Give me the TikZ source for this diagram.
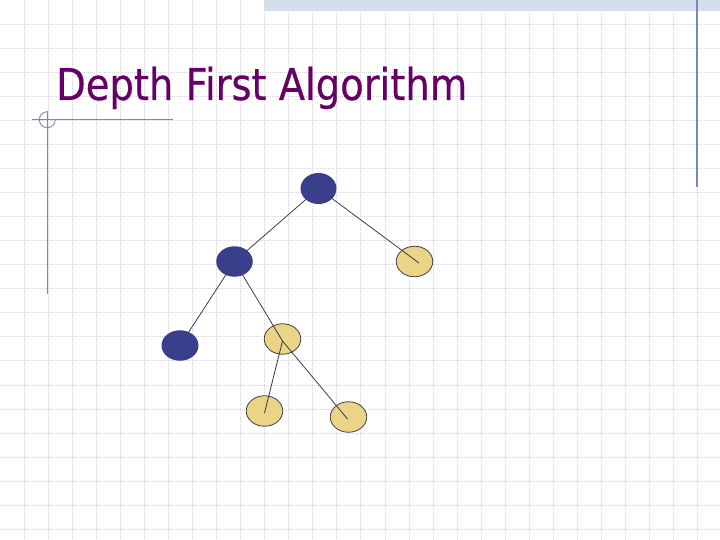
\documentclass[tikz,border=0pt]{standalone}
\usepackage{fontspec}
\setmainfont{DejaVu Sans}
\newfontfamily\titlefont[FakeBold=0.5]{DejaVu Sans}
\usetikzlibrary{shapes.geometric,calc}
\definecolor{titlecol}{RGB}{102,0,102}
\definecolor{gridcol}{RGB}{212,212,218}
\definecolor{bandcol}{RGB}{212,222,238}
\definecolor{rulecol}{RGB}{120,135,185}
\definecolor{bluenode}{RGB}{58,63,140}
\definecolor{yellownode}{RGB}{234,212,136}
\definecolor{edgecol}{RGB}{50,50,70}
\pgfdeclarelayer{gridlayer}
\pgfdeclarelayer{lowlayer}
\pgfdeclarelayer{edgelayer}
\pgfsetlayers{gridlayer,lowlayer,edgelayer,main}
\tikzset{
  gridline/.style={draw=gridcol, line width=0.6pt, dash pattern=on 1pt off 1pt},
  ruleline/.style={draw=rulecol, line width=1.1pt},
  treenode/.style={ellipse, inner sep=0pt, minimum width=36.5pt, minimum height=30.5pt},
  visited/.style={treenode, fill=bluenode, draw=none},
  unvisited/.style={treenode, fill=yellownode, draw=black!75, line width=0.8pt},
  edge/.style={draw=edgecol, line width=0.75pt}
}
\begin{document}
\begin{tikzpicture}[x=1pt,y=-1pt]
\useasboundingbox (0,0) rectangle (720,540);
\begin{pgfonlayer}{gridlayer}
  \fill[white] (0,0) rectangle (720,540);
  \foreach \i in {1,...,29} \draw[gridline] (\i*24.05,0) -- (\i*24.05,540);
  \foreach \j in {1,...,22} \draw[gridline] (0,\j*24.05) -- (720,\j*24.05);
  \fill[bandcol] (264,0) rectangle (720,11.5);
  \draw[ruleline] (697,0) -- (697,187);
  \draw[ruleline] (47.3,111) -- (47.3,294);
  \draw[ruleline, line width=0.9pt] (32,119.7) -- (173,119.7);
  \draw[ruleline, line width=0.9pt] (55.3,119.7) arc[start angle=0, end angle=270, radius=8];
\end{pgfonlayer}

\node[anchor=base west, inner sep=0pt] (title) at (56,100)
  {\resizebox{411pt}{33.3pt}{\color{titlecol}\titlefont Depth First Algorithm}};

\begin{pgfonlayer}{lowlayer}
  \node[unvisited] (c) at (414.5,261.5) {};
  \node[unvisited] (e) at (282.5,339) {};
  \node[unvisited] (f) at (264.5,411) {};
  \node[unvisited] (g) at (348.5,417) {};
\end{pgfonlayer}

\node[visited, minimum width=36pt, minimum height=31pt] (root) at (318.5,188.5) {};
\node[visited] (b) at (234.5,261.5) {};
\node[visited, minimum width=37pt] (d) at (180,345.5) {};

\begin{pgfonlayer}{edgelayer}
  \draw[edge] (root.center) -- (b.center);
  \draw[edge] (root.center) -- ($(c.center)+(4.5,1.5)$);
  \draw[edge] (b.center) -- (d.center);
  \draw[edge] (b.center) -- ($(e.center)+(0,2)$);
  \draw[edge] ($(e.center)+(0,2)$) -- ($(f.center)+(0,2)$);
  \draw[edge] ($(e.center)+(0,2)$) -- ($(g.center)+(-1,2)$);
\end{pgfonlayer}
\end{tikzpicture}
\end{document}
